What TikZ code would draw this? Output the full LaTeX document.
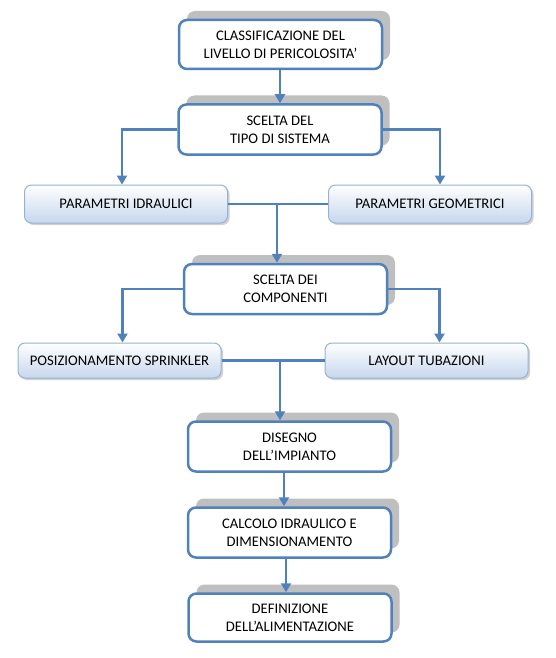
\documentclass[tikz,border=0pt]{standalone}
\usepackage{fontspec}
\setmainfont{Carlito}
\usetikzlibrary{shadows,arrows.meta,calc}
\definecolor{mainblue}{RGB}{79,129,189}
\definecolor{shgrey}{RGB}{191,191,191}
\definecolor{lightb}{RGB}{198,215,237}
\definecolor{lborder}{RGB}{150,178,212}
\tikzset{
  mainbox/.style={draw=mainblue, line width=2.5pt, fill=white, rounded corners=8pt,
    minimum width=203pt, minimum height=49pt, align=center, inner sep=0pt,
    font=\fontsize{14.67}{18}\selectfont,
    general shadow={shadow xshift=8pt, shadow yshift=9pt, fill=shgrey}},
  parbox/.style={draw=lborder, line width=1pt, top color=white, bottom color=lightb,
    rounded corners=7pt, minimum width=203pt, align=center, inner sep=0pt,
    font=\fontsize{14.67}{18}\selectfont,
    drop shadow={shadow xshift=2pt, shadow yshift=-2pt, opacity=0.3, fill=black!60}},
  conn/.style={draw=mainblue, line width=2.5pt},
  arr/.style={conn, -{Triangle[width=10pt,length=9pt]}},
}
\begin{document}
\begin{tikzpicture}[x=1pt,y=-1pt]
\useasboundingbox (0,0) rectangle (555,658);
\node[mainbox] (b1) at (280.5,44.5) {CLASSIFICAZIONE DEL\\LIVELLO DI PERICOLOSITA’};
\node[mainbox, minimum height=50pt] (b2) at (280,129.5) {SCELTA DEL\\TIPO DI SISTEMA};
\node[parbox, minimum height=38pt] (p1) at (126,204) {PARAMETRI IDRAULICI};
\node[parbox, minimum height=38pt] (p2) at (430,204) {PARAMETRI GEOMETRICI};
\node[mainbox, minimum height=50pt] (b3) at (285.5,289) {SCELTA DEI\\COMPONENTI};
\node[parbox, minimum height=35pt] (q1) at (119.5,360.5) {POSIZIONAMENTO SPRINKLER};
\node[parbox, minimum height=35pt] (q2) at (426.5,360.5) {LAYOUT TUBAZIONI};
\node[mainbox, minimum height=50pt] (b4) at (289.5,446.5) {DISEGNO\\DELL’IMPIANTO};
\node[mainbox, minimum height=50pt] (b5) at (289.5,532.5) {CALCOLO IDRAULICO E\\DIMENSIONAMENTO};
\node[mainbox, minimum height=48pt] (b6) at (290,617.5) {DEFINIZIONE\\DELL’ALIMENTAZIONE};
% connectors
\draw[arr] (b1.south -| 280,0) -- (b2.north -| 280,0);
\draw[arr] (b2.west) -| ([xshift=-4pt]p1.north);
\draw[arr] (b2.east) -| ([xshift=10pt]p2.north);
\draw[conn] (p1.east) -- (p2.west);
\coordinate (m1) at (277,204);
\draw[arr] (m1) -- (m1 |- b3.north);
\draw[arr] (b3.west) -| ([xshift=3pt]q1.north);
\draw[arr] (b3.east) -| ([xshift=13pt]q2.north);
\draw[conn] (q1.east) -- (q2.west);
\coordinate (m2) at (280,362);
\draw[arr] (m2) -- (m2 |- b4.north);
\draw[arr] (b4.south -| 284,0) -- (b5.north -| 284,0);
\draw[arr] (b5.south -| 286,0) -- (b6.north -| 286,0);
\end{tikzpicture}
\end{document}
